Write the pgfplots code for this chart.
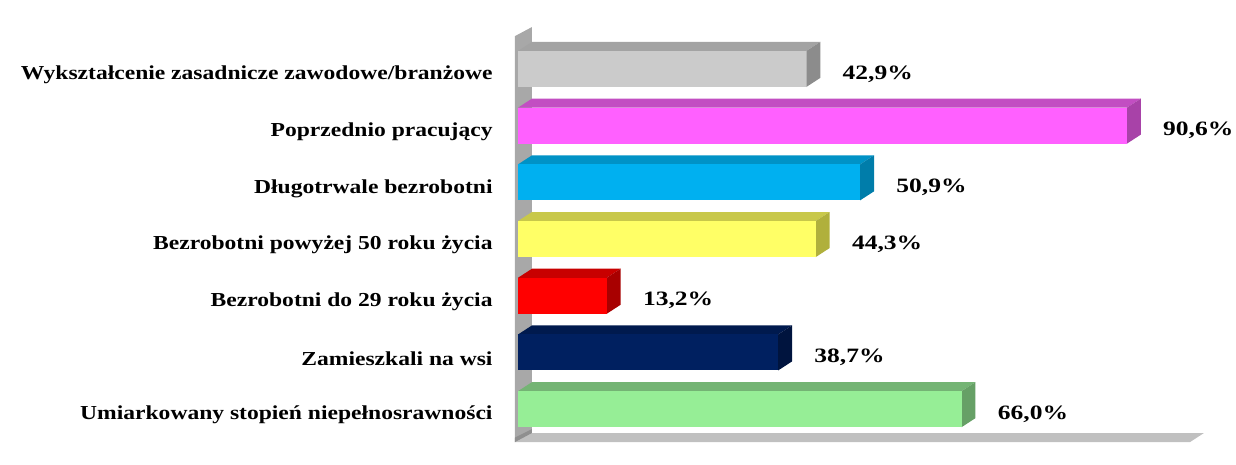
\documentclass[border=0pt]{standalone}
\usepackage{pgfplots}
\pgfplotsset{compat=1.18}
\usepackage{fontspec}
\setmainfont{Liberation Serif}[FakeStretch=1.25]
\newfontfamily\labfont{Liberation Serif}[FakeStretch=1.19]
\definecolor{cgray}{HTML}{CBCBCB}\definecolor{cgrayT}{HTML}{A3A3A3}\definecolor{cgrayS}{HTML}{8C8C8C}
\definecolor{cpink}{HTML}{FF60FF}\definecolor{cpinkT}{HTML}{C24EC2}\definecolor{cpinkS}{HTML}{A842A8}
\definecolor{cblue}{HTML}{00B0F0}\definecolor{cblueT}{HTML}{0092C6}\definecolor{cblueS}{HTML}{007DAA}
\definecolor{cyel}{HTML}{FFFF66}\definecolor{cyelT}{HTML}{C8C84A}\definecolor{cyelS}{HTML}{B0B03C}
\definecolor{cred}{HTML}{FF0000}\definecolor{credT}{HTML}{C80000}\definecolor{credS}{HTML}{A80000}
\definecolor{cnavy}{HTML}{002060}\definecolor{cnavyT}{HTML}{001A4E}\definecolor{cnavyS}{HTML}{00143E}
\definecolor{cgreen}{HTML}{96EE96}\definecolor{cgreenT}{HTML}{74B474}\definecolor{cgreenS}{HTML}{66A066}
\definecolor{cwall}{HTML}{A8A8A8}\definecolor{cfloor}{HTML}{C0C0C0}
\pgfplotsset{
  front/.style={xbar, bar width=0.635, bar shift=0pt, draw=none, fill=#1, point meta=x,
    nodes near coords={\pgfmathprintnumber[fixed,fixed zerofill,precision=1,use comma,assume math mode=true]{\pgfplotspointmeta}\%},
    every node near coord/.append style={anchor=west, inner sep=0pt, xshift=18pt, yshift=-2.5pt,
      font=\fontsize{10.2pt}{12pt}\selectfont\bfseries, text=black}},
}
\begin{document}
\begin{tikzpicture}
\begin{axis}[
  anchor=origin, at={(0,0)},
  x=3.36pt, y=28.35pt,
  xmin=-0.45, xmax=102.1, ymin=-0.58, ymax=6.72,
  clip=false,
  axis line style={draw=none},
  major tick length=0pt,
  xtick=\empty,
  ytick={0,1,2,3,4,5,6},
  yticklabels={Umiarkowany stopień niepełnosrawności, Zamieszkali na wsi, Bezrobotni do 29 roku życia, Bezrobotni powyżej 50 roku życia, Długotrwale bezrobotni, Poprzednio pracujący, Wykształcenie zasadnicze zawodowe/branżowe},
  yticklabel style={anchor=east, inner sep=0pt, xshift=-11pt, yshift=-3pt, font=\labfont\fontsize{9.9pt}{12pt}\selectfont\bfseries},
]
% wall and floor
\addplot[fill=cwall, draw=none] coordinates {(-0.45,-0.58) (-0.45,6.58) (2.08,6.74) (2.08,-0.42)};
\addplot[fill=cfloor, draw=none] coordinates {(-0.45,-0.58) (100,-0.58) (102.08,-0.42) (2.08,-0.42)};
\addplot[fill=cwall!85!black, draw=none] coordinates {(-0.45,-0.58) (2.08,-0.42) (2.08,-0.35) (-0.45,-0.50)};
% gray 42.9
\addplot[fill=cgrayT, draw=none] coordinates {(0,6.3175) (42.9,6.3175) (44.98,6.4775) (2.08,6.4775)};
\addplot[fill=cgrayS, draw=none] coordinates {(42.9,5.6825) (44.98,5.8425) (44.98,6.4775) (42.9,6.3175)};
\addplot[front=cgray] coordinates {(42.9,6)};
% pink 90.6
\addplot[fill=cpinkT, draw=none] coordinates {(0,5.3175) (90.6,5.3175) (92.68,5.4775) (2.08,5.4775)};
\addplot[fill=cpinkS, draw=none] coordinates {(90.6,4.6825) (92.68,4.8425) (92.68,5.4775) (90.6,5.3175)};
\addplot[front=cpink] coordinates {(90.6,5)};
% blue 50.9
\addplot[fill=cblueT, draw=none] coordinates {(0,4.3175) (50.9,4.3175) (52.98,4.4775) (2.08,4.4775)};
\addplot[fill=cblueS, draw=none] coordinates {(50.9,3.6825) (52.98,3.8425) (52.98,4.4775) (50.9,4.3175)};
\addplot[front=cblue] coordinates {(50.9,4)};
% yellow 44.3
\addplot[fill=cyelT, draw=none] coordinates {(0,3.3175) (44.3,3.3175) (46.38,3.4775) (2.08,3.4775)};
\addplot[fill=cyelS, draw=none] coordinates {(44.3,2.6825) (46.38,2.8425) (46.38,3.4775) (44.3,3.3175)};
\addplot[front=cyel] coordinates {(44.3,3)};
% red 13.2
\addplot[fill=credT, draw=none] coordinates {(0,2.3175) (13.2,2.3175) (15.28,2.4775) (2.08,2.4775)};
\addplot[fill=credS, draw=none] coordinates {(13.2,1.6825) (15.28,1.8425) (15.28,2.4775) (13.2,2.3175)};
\addplot[front=cred] coordinates {(13.2,2)};
% navy 38.7
\addplot[fill=cnavyT, draw=none] coordinates {(0,1.3175) (38.7,1.3175) (40.78,1.4775) (2.08,1.4775)};
\addplot[fill=cnavyS, draw=none] coordinates {(38.7,0.6825) (40.78,0.8425) (40.78,1.4775) (38.7,1.3175)};
\addplot[front=cnavy] coordinates {(38.7,1)};
% green 66.0
\addplot[fill=cgreenT, draw=none] coordinates {(0,0.3175) (66.0,0.3175) (68.08,0.4775) (2.08,0.4775)};
\addplot[fill=cgreenS, draw=none] coordinates {(66.0,-0.3175) (68.08,-0.1575) (68.08,0.4775) (66.0,0.3175)};
\addplot[front=cgreen] coordinates {(66.0,0)};
\end{axis}
\pgfresetboundingbox
\path[use as bounding box] (-259pt,-27.5pt) rectangle (359pt,204.6pt);
\end{tikzpicture}
\end{document}
